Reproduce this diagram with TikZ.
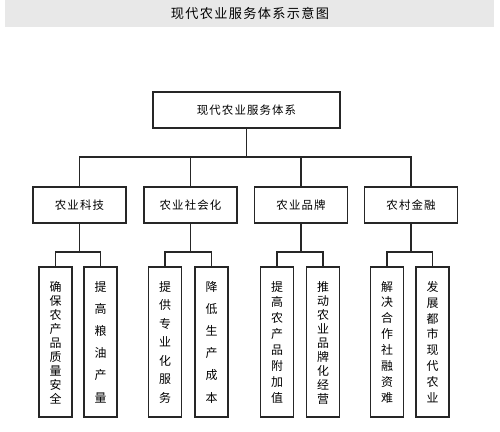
\documentclass[tikz,border=0pt]{standalone}
\usepackage{fontspec}
\usepackage{xcolor}
\newfontfamily\cjk{Noto Sans CJK SC}
\newfontfamily\cjksp[LetterSpace=10]{Noto Sans CJK SC}

\tikzset{
  box/.style={draw=black!85, line width=1pt, fill=white, inner sep=0pt},
  topbox/.style={box, minimum width=3.74cm, minimum height=0.72cm, font=\cjksp\fontsize{6.5}{8}\selectfont},
  midbox/.style={box, minimum width=1.86cm, minimum height=0.72cm, font=\cjksp\fontsize{6.5}{8}\selectfont},
  leafbox/.style={box, minimum width=0.66cm, minimum height=3cm, font=\cjk\fontsize{6.8}{8}\selectfont},
  link/.style={draw=black!85, line width=0.8pt}
}
% characters stacked top to bottom, spread over the box
\newcommand{\vtext}[1]{\parbox[c][2.42cm][s]{1em}{\centering
  \foreach \ch [count=\k] in {#1}{\ifnum\k>1 \vfill\fi\ch\par}}}

\begin{document}
\begin{tikzpicture}[x=0.02cm, y=-0.02cm]
  \useasboundingbox (0,0) rectangle (500,432);
  \fill[black!9] (5,0) rectangle (494,27);
  \node[font=\cjksp\fontsize{7.5}{9}\selectfont] (title) at (250,13.5) {现代农业服务体系示意图};

  \node[topbox] (root) at (246.5,110) {现代农业服务体系};

  \node[midbox] (kj)  at (79.5,205)  {农业科技};
  \node[midbox] (shh) at (190.5,205) {农业社会化};
  \node[midbox] (pp)  at (301,205)   {农业品牌};
  \node[midbox] (jr)  at (411,205)   {农村金融};

  \node[leafbox] (kj1)  at (55.5,342)  {\vtext{确,保,农,产,品,质,量,安,全}};
  \node[leafbox] (kj2)  at (100.5,342) {\vtext{提,高,粮,油,产,量}};
  \node[leafbox] (shh1) at (165,342)   {\vtext{提,供,专,业,化,服,务}};
  \node[leafbox] (shh2) at (211.5,342) {\vtext{降,低,生,产,成,本}};
  \node[leafbox] (pp1)  at (277,342)   {\vtext{提,高,农,产,品,附,加,值}};
  \node[leafbox] (pp2)  at (323,342)   {\vtext{推,动,农,业,品,牌,化,经,营}};
  \node[leafbox] (jr1)  at (387,342)   {\vtext{解,决,合,作,社,融,资,难}};
  \node[leafbox] (jr2)  at (432.5,342) {\vtext{发,展,都,市,现,代,农,业}};

  \foreach \n in {kj,shh,pp,jr}
    \draw[link] (root.south) -- ++(0,28) -| (\n.north);
  \foreach \n in {kj,shh,pp,jr}{
    \draw[link] (\n.south) -- ++(0,28) -| (\n1.north);
    \draw[link] (\n.south) -- ++(0,28) -| (\n2.north);
  }
\end{tikzpicture}
\end{document}
